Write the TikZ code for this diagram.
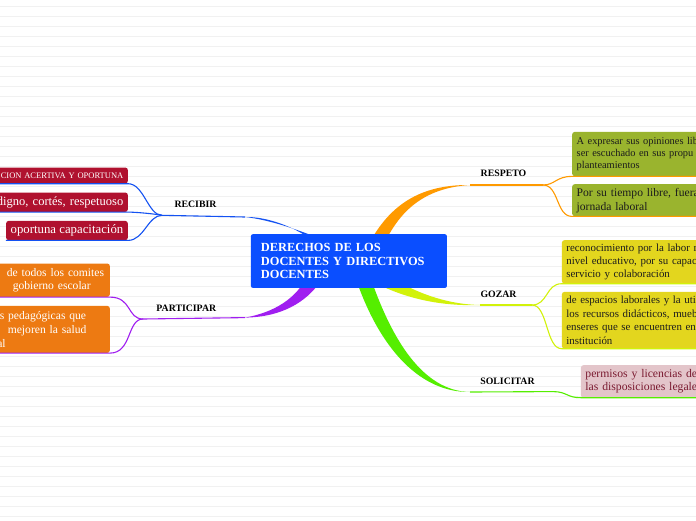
\documentclass[tikz,border=0pt]{standalone}
\usepackage{fontspec}
\setmainfont{Liberation Serif}
\usetikzlibrary{positioning,calc}
\definecolor{rootblue}{HTML}{0A4EFF}
\definecolor{recblue}{HTML}{1452F2}
\definecolor{crimson}{HTML}{B0112F}
\definecolor{resorange}{HTML}{FF9A00}
\definecolor{olive}{HTML}{9AB42E}
\definecolor{parpurple}{HTML}{A01EF0}
\definecolor{boxorange}{HTML}{ED7A12}
\definecolor{gozlime}{HTML}{D2F20A}
\definecolor{boxyellow}{HTML}{E3D61E}
\definecolor{solgreen}{HTML}{55EE00}
\definecolor{boxpink}{HTML}{E3C5CA}
\definecolor{pinktext}{HTML}{7A1A30}
\definecolor{leaftext}{HTML}{1C1C1C}
\definecolor{ruling}{HTML}{F1F1F1}
\tikzset{
  % Central topic
  topic/.style={fill=rootblue,rounded corners=2pt,text=white,align=left,
                font=\fontsize{12.4}{13.4}\selectfont\bfseries,
                inner xsep=10pt,text width=176pt,minimum height=53.7pt},
  % Branch labels
  blabel/.style={font=\fontsize{9.8}{11}\selectfont\bfseries,inner sep=1pt},
  % Leaf boxes
  leaf/.style={rounded corners=2.5pt,inner xsep=4.5pt,inner ysep=0pt},
  recleaf/.style={leaf,fill=crimson,text=white,anchor=north east},
  parleaf/.style={leaf,fill=boxorange,text=white,anchor=north east,align=left,
                  text width=130pt,font=\fontsize{11.6}{13.8}\selectfont},
  resleaf/.style={leaf,fill=olive,text=leaftext,anchor=north west,align=left,
                  text width=150pt},
  gozleaf/.style={leaf,fill=boxyellow,text=leaftext,anchor=north west,align=left,
                  text width=150pt,font=\fontsize{10.9}{13.4}\selectfont},
  solleaf/.style={leaf,fill=boxpink,text=pinktext,anchor=north west,align=left,
                  text width=150pt,font=\fontsize{11.7}{12.6}\selectfont},
  % Connectors
  twig/.style={line width=1.1pt}
}

\begin{document}
\begin{tikzpicture}[x=1pt,y=-1pt]
  \useasboundingbox (0,0) rectangle (696,520);
  \clip (0,0) rectangle (696,520);
  \fill[white] (0,0) rectangle (696,520);
  \foreach \k in {0,...,51}
    \draw[ruling,line width=1pt] (0,6.7+10*\k) -- (696,6.7+10*\k);

  % Branch ends and junctions
  \coordinate (erec) at (245,217);
  \coordinate (jrec) at (162,215.3);
  \coordinate (epar) at (245,317.6);
  \coordinate (jpar) at (143,319);
  \coordinate (eres) at (470,185);
  \coordinate (jres) at (543,185);
  \coordinate (egoz) at (480,305);
  \coordinate (jgoz) at (532,305);
  \coordinate (esol) at (470,392);
  \coordinate (jsol) at (553,391.6);

  % Tapered main branches
  \fill[recblue] (312,240) .. controls (296,228) and (268,216.4) .. (erec)
                 .. controls (272,220) and (304,232) .. (323,240) -- cycle;
  \fill[resorange] (371,240) .. controls (390,207) and (418,184.4) .. (eres)
                   .. controls (422,188) and (400,213) .. (386,240) -- cycle;
  \fill[parpurple] (304,282) .. controls (294,298) and (276,312) .. (epar)
                   .. controls (282,317) and (306,302) .. (320,282) -- cycle;
  \fill[gozlime] (392,278) .. controls (420,295) and (450,304.4) .. (egoz)
                 .. controls (450,306) and (418,302) .. (386,288) -- cycle;
  \fill[solgreen] (357,282) .. controls (378,342) and (416,392.6) .. (esol)
                  .. controls (422,391) and (392,338) .. (372,282) -- cycle;

  % Central topic
  \node[topic,anchor=north west] (root) at (250.7,234)
       {DERECHOS DE LOS\\DOCENTES Y DIRECTIVOS\\DOCENTES};

  % Branch labels
  \node[blabel] (lrec) at (195.5,204.2) {RECIBIR};
  \node[blabel] (lpar) at (186.3,308) {PARTICIPAR};
  \node[blabel] (lres) at (503.5,173.5) {RESPETO};
  \node[blabel] (lgoz) at (498.5,293.8) {GOZAR};
  \node[blabel] (lsol) at (507.5,380.8) {SOLICITAR};

  % RECIBIR leaves
  \node[recleaf,align=right,text width=140pt,minimum height=16pt,
        font=\fontsize{8.5}{10}\selectfont] (rb1) at (128,167.3) {CION ACERTIVA Y OPORTUNA};
  \node[recleaf,align=right,text width=140pt,minimum height=19.4pt,
        font=\fontsize{12.5}{14}\selectfont] (rb2) at (128,192.3) {digno, cortés, respetuoso};
  \node[recleaf,minimum height=19.3pt,
        font=\fontsize{12.8}{14}\selectfont] (rb3) at (128,220.7) {oportuna capacitación};

  % PARTICIPAR leaves
  \node[parleaf,minimum height=33.4pt] (pb1) at (110,263.3)
       {\hspace*{31.5pt}de todos los comites\\\hspace*{37.5pt}gobierno escolar};
  \node[parleaf,minimum height=47pt] (pb2) at (110,305.7)
       {\hspace*{24.5pt}s pedagógicas que\\\hspace*{32.5pt}mejoren la salud\\\hspace*{22pt}al};

  % RESPETO leaves
  \node[resleaf,minimum height=44.3pt,font=\fontsize{10.4}{12.3}\selectfont] (rs1) at (572,131.7)
       {A expresar sus opiniones lib\\ser escuchado en sus propu\\planteamientos};
  \node[resleaf,minimum height=32pt,font=\fontsize{11.6}{14}\selectfont] (rs2) at (572,184)
       {Por su tiempo libre, fuera\\jornada laboral};

  % GOZAR leaves
  \node[gozleaf,minimum height=43.3pt] (gz1) at (561.7,240)
       {reconocimiento por la labor re\\nivel educativo, por su capaci\\servicio y colaboración};
  \node[gozleaf,minimum height=56.6pt] (gz2) at (561.7,291.7)
       {de espacios laborales y la util\\los recursos didácticos, mueb\\enseres que se encuentren en\\institución};

  % SOLICITAR leaf
  \node[solleaf,minimum height=32.3pt] (so1) at (580.7,365)
       {permisos y licencias de\\las disposiciones legale};

  % Thin connectors
  \draw[twig,recblue] (erec) -- (jrec);
  \draw[twig,recblue] (jrec) .. controls +(-14,0) and +(16,0) .. (rb1.south east) -- (rb1.south west);
  \draw[twig,recblue] (jrec) .. controls +(-8,-1.5) and +(8,0) .. (rb2.south east) -- (rb2.south west);
  \draw[twig,recblue] (jrec) .. controls +(-14,0) and +(16,0) .. (rb3.south east) -- (rb3.south west);

  \draw[twig,parpurple] (epar) -- (jpar);
  \draw[twig,parpurple] (jpar) .. controls +(-16,0) and +(22,0) .. (pb1.south east) -- (pb1.south west);
  \draw[twig,parpurple] (jpar) .. controls +(-16,0) and +(22,0) .. (pb2.south east) -- (pb2.south west);

  \draw[twig,resorange] (eres) -- (jres);
  \draw[twig,resorange] (jres) .. controls +(12,0) and +(-16,0) .. (rs1.south west) -- (rs1.south east);
  \draw[twig,resorange] (jres) .. controls +(16,0) and +(-16,0) .. (rs2.south west) -- (rs2.south east);

  \draw[twig,gozlime] (egoz) -- (jgoz);
  \draw[twig,gozlime] (jgoz) .. controls +(16,0) and +(-16,0) .. (gz1.south west) -- (gz1.south east);
  \draw[twig,gozlime] (jgoz) .. controls +(16,0) and +(-16,0) .. (gz2.south west) -- (gz2.south east);

  \draw[twig,solgreen] (esol) -- (jsol) .. controls +(14,0) and +(-14,0) .. (so1.south west) -- (so1.south east);
\end{tikzpicture}
\end{document}
